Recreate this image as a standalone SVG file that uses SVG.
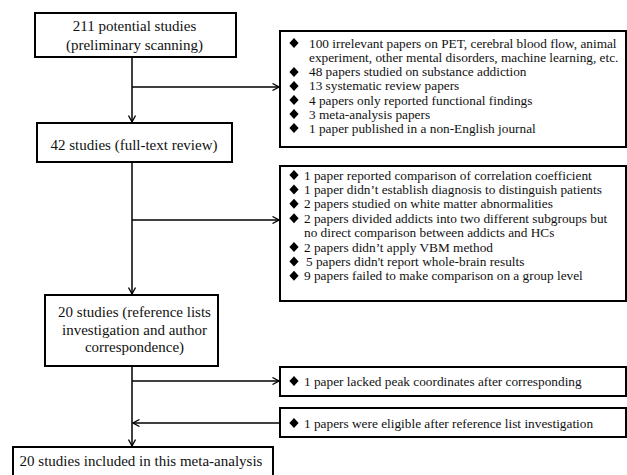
<svg xmlns="http://www.w3.org/2000/svg" width="627" height="475" viewBox="0 0 627 475">
<defs>
<style>
.box{fill:#fff;stroke:#000;stroke-width:2}
.main{font-family:"Liberation Serif","Times New Roman",serif;font-size:15px;fill:#111;text-anchor:middle}
.item{font-family:"Liberation Serif","Times New Roman",serif;font-size:13.3px;fill:#111}
.conn{fill:none;stroke:#000;stroke-width:1.5}
</style>
<marker id="arr" viewBox="0 0 8 8" refX="7" refY="4" markerWidth="8" markerHeight="8" markerUnits="userSpaceOnUse" orient="auto">
<path d="M0.5,0.5 L7,4 L0.5,7.5" fill="none" stroke="#000" stroke-width="1.3"/>
</marker>
<path id="dia" d="M0,-5 L4.6,0 L0,5 L-4.6,0 Z" fill="#000"/>
</defs>
<rect width="627" height="475" fill="#fff"/>

<g id="connectors">
<path class="conn" d="M132,57 V122" marker-end="url(#arr)"/>
<path class="conn" d="M132,87 H279" marker-end="url(#arr)"/>
<path class="conn" d="M132,162 V294" marker-end="url(#arr)"/>
<path class="conn" d="M132,220 H279" marker-end="url(#arr)"/>
<path class="conn" d="M132,366 V446" marker-end="url(#arr)"/>
<path class="conn" d="M132,381 H279" marker-end="url(#arr)"/>
<path class="conn" d="M280,423 H133" marker-end="url(#arr)"/>
</g>

<g id="n1">
<rect class="box" x="35" y="13" width="201" height="44"/>
<text class="main" x="134.5" y="31">211 potential studies</text>
<text class="main" x="134.5" y="50">(preliminary  scanning)</text>
</g>

<g id="n2">
<rect class="box" x="37" y="123" width="195" height="39"/>
<text class="main" x="134" y="150">42 studies (full-text review)</text>
</g>

<g id="n3">
<rect class="box" x="45" y="295" width="173" height="71"/>
<text class="main" x="134.5" y="317">20 studies (reference  lists</text>
<text class="main" x="134.5" y="334.5">investigation and author</text>
<text class="main" x="134.5" y="352">correspondence)</text>
</g>

<g id="n4">
<rect class="box" x="13" y="447" width="260" height="40"/>
<text class="main" x="141" y="466">20 studies included in this meta-analysis</text>
</g>

<g id="e1">
<rect class="box" x="280" y="31" width="346" height="116"/>
<use href="#dia" x="294" y="43"/>
<use href="#dia" x="294" y="72"/>
<use href="#dia" x="294" y="86"/>
<use href="#dia" x="294" y="100"/>
<use href="#dia" x="294" y="114"/>
<use href="#dia" x="294" y="128"/>
<g class="item">
<text x="309" y="47.5">100 irrelevant  papers on PET, cerebral blood flow, animal</text>
<text x="309" y="61.8">experiment, other mental disorders, machine learning, etc.</text>
<text x="309" y="76.1">48 papers studied on substance addiction</text>
<text x="309" y="90.4">13 systematic review papers</text>
<text x="309" y="104.7">4 papers only reported functional findings</text>
<text x="309" y="119">3 meta-analysis  papers</text>
<text x="309" y="133.3">1 paper published in a non-English journal</text>
</g>
</g>

<g id="e2">
<rect class="box" x="280" y="166" width="346" height="135"/>
<use href="#dia" x="294" y="175"/>
<use href="#dia" x="294" y="189.4"/>
<use href="#dia" x="294" y="203.8"/>
<use href="#dia" x="294" y="218.2"/>
<use href="#dia" x="294" y="247"/>
<use href="#dia" x="294" y="261.4"/>
<use href="#dia" x="294" y="275.8"/>
<g class="item">
<text x="304" y="179.5">1 paper reported comparison of correlation coefficient</text>
<text x="304" y="193.9">1 paper didn’t establish diagnosis to distinguish  patients</text>
<text x="304" y="208.3">2 papers studied on white  matter abnormalities</text>
<text x="304" y="222.7">2 papers divided addicts into two different  subgroups but</text>
<text x="304" y="237.1">no direct comparison between addicts and HCs</text>
<text x="304" y="251.5">2 papers didn’t apply VBM method</text>
<text x="306" y="265.9">5 papers didn't report whole-brain results</text>
<text x="304" y="280.3">9 papers failed  to make comparison on a group level</text>
</g>
</g>

<g id="e3">
<rect class="box" x="280" y="367" width="346" height="29"/>
<use href="#dia" x="294" y="381"/>
<text class="item" x="304" y="385.5">1 paper lacked peak coordinates after corresponding</text>
</g>

<g id="e4">
<rect class="box" x="280" y="408" width="346" height="29"/>
<use href="#dia" x="294" y="423"/>
<text class="item" x="304" y="427.5">1 papers were eligible  after reference list investigation</text>
</g>
</svg>
